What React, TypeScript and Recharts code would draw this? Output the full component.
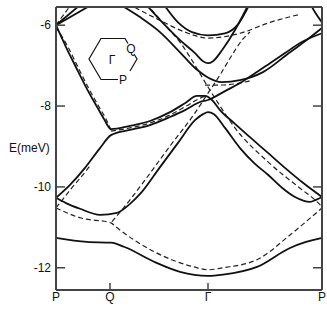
import { LineChart, Line, XAxis, YAxis } from 'recharts';

// k runs along the path P -> Q -> Gamma -> P
const kTicks = [0, 54, 152, 266];
const kLabels = ['P', 'Q', 'Γ', 'P'];
const kTopTicks = [54, 152];
const eTicks = [-12, -10, -8, -6];
const eDomain = [-12.55, -5.55];

// solid bands, [k, E(meV)]
const bandLowest = [[0, -11.26], [31, -11.36], [55, -11.38], [68, -11.48], [98, -11.85], [124, -12.1], [152, -12.2], [167, -12.17], [201, -11.98], [234, -11.51], [250, -11.36], [266, -11.26]];
const bandSecond = [[0, -10.27], [10, -10.4], [24, -10.54], [44, -10.69], [61, -10.64], [74, -10.42], [85, -10.15], [104, -9.51], [122, -8.91], [139, -8.35], [147, -8.2], [152, -8.15], [158, -8.2], [169, -8.54], [184, -9.04], [199, -9.43], [212, -9.7], [226, -10.02], [239, -10.25], [254, -10.37], [260, -10.32], [266, -10.25]];
const bandStraight = [[0, -10.27], [14, -9.95], [29, -9.53], [44, -9.04], [55, -8.72], [74, -8.59], [94, -8.47], [114, -8.27], [129, -8.1], [144, -7.9], [152, -7.85], [169, -7.63], [184, -7.43], [199, -7.19], [214, -6.94], [229, -6.69], [244, -6.44], [266, -6.2]];
const bandHump = [[0, -6.0], [10, -6.54], [20, -7.04], [30, -7.53], [41, -8.02], [48, -8.32], [55, -8.57], [74, -8.49], [94, -8.37], [114, -8.15], [129, -7.93], [141, -7.75], [149, -7.75], [156, -7.85], [164, -8.1], [179, -8.44], [194, -8.77], [212, -9.16], [229, -9.53], [246, -9.88], [266, -10.25]];
const bandUpper = [[62, -5.46], [84, -5.8], [104, -6.17], [124, -6.67], [139, -7.06], [151, -7.28], [166, -7.41], [184, -7.36], [207, -7.16], [234, -6.67], [249, -6.4], [266, -6.07]];
const bandV = [[89, -5.46], [109, -6.0], [124, -6.37], [139, -6.69], [147, -6.89], [152, -6.94], [157, -6.89], [166, -6.62], [179, -6.12], [187, -5.75], [192, -5.51]];
const bandU = [[107, -5.46], [122, -5.93], [136, -6.17], [152, -6.25], [169, -6.2], [182, -5.98], [194, -5.46]];
const fanA = [[0, -6.0], [26, -5.46]];
const fanB = [[0, -6.0], [38, -5.46]];
const arcRight = [[254, -5.46], [259, -5.68], [266, -5.93]];

// dashed bands
const dashLowest = [[0, -10.52], [25, -10.77], [55, -10.89], [60, -10.99], [98, -11.6], [138, -11.98], [152, -12.05], [167, -12.0], [201, -11.8], [234, -11.19], [250, -10.86], [266, -10.52]];
const dashSteep = [[0, -6.05], [12, -6.54], [22, -7.04], [32, -7.53], [43, -8.02], [50, -8.32], [55, -8.6]];
const dashRising = [[56, -10.86], [74, -10.32], [89, -9.83], [114, -8.99], [139, -8.17], [152, -7.68], [164, -7.23], [176, -6.74], [186, -6.37], [194, -6.17]];
const dashFalling = [[90, -5.46], [109, -6.0], [124, -6.42], [139, -6.99], [152, -7.53], [164, -8.0], [179, -8.54], [212, -9.38], [246, -10.07], [259, -10.32], [266, -10.49]];
const dashFlat = [[72, -5.46], [79, -5.56], [104, -5.88], [129, -6.17], [152, -6.32], [184, -6.2], [214, -5.93], [244, -5.73]];
const dashHump = [[55, -8.62], [74, -8.54], [94, -8.42], [114, -8.22], [129, -8.02], [142, -7.83], [151, -7.73]];
const dashCross = [[149, -7.48], [164, -7.48], [184, -7.43], [196, -7.36]];
const dashLeft = [[0, -10.52], [7, -10.3], [16, -10.02], [26, -9.73], [34, -9.48]];
const dashFan = [[0, -6.0], [16, -5.46]];

const solidBands = [bandLowest, bandSecond, bandStraight, bandHump, bandUpper, bandV, bandU, fanA, fanB, arcRight];
const dashedBands = [dashLowest, dashSteep, dashRising, dashFalling, dashFlat, dashHump, dashCross, dashLeft, dashFan];

const toPts = (band: number[][]) => band.map(([k, E]) => ({ k, E }));

const frame = { stroke: '#444', strokeWidth: 2 };

const LeftTick = ({ x, y, payload }: any) => (
  <g>
    <line x1={x} y1={y} x2={x + 9} y2={y} stroke="#444" strokeWidth={1.5} />
    <text x={x - 5} y={y} dy="0.35em" textAnchor="end" fontSize={12} fill="#111">{payload.value}</text>
  </g>
);

const RightTick = ({ x, y }: any) => (
  <line x1={x} y1={y} x2={x - 9} y2={y} stroke="#444" strokeWidth={1.5} />
);

const BottomTick = ({ x, y, payload }: any) => (
  <g>
    <line x1={x} y1={y} x2={x} y2={y - 7} stroke="#444" strokeWidth={1.5} />
    <text x={x} y={y + 11} textAnchor="middle" fontSize={12} fill="#111">
      {kLabels[kTicks.indexOf(payload.value)]}
    </text>
  </g>
);

const TopTick = ({ x, y }: any) => (
  <line x1={x} y1={y} x2={x} y2={y + 7} stroke="#444" strokeWidth={1.5} />
);

export default function App() {
  return (
    <div style={{ position: 'absolute', left: 0, top: 0, width: 327, height: 309, background: '#fff', fontFamily: '"Liberation Sans", Arial, sans-serif' }}>
      <LineChart width={327} height={309} margin={{ top: 0, right: 0, bottom: 0, left: 0 }}>
        <XAxis dataKey="k" type="number" domain={[0, 266]} ticks={kTicks} interval={0} height={19}
          axisLine={frame} tickLine={false} tickSize={0} tickMargin={0} tick={BottomTick} />
        <XAxis xAxisId="top" orientation="top" dataKey="k" type="number" domain={[0, 266]} ticks={kTopTicks} height={7}
          axisLine={frame} tickLine={false} tickSize={0} tickMargin={0} tick={TopTick} />
        <YAxis type="number" domain={eDomain} ticks={eTicks} width={56} allowDataOverflow
          axisLine={frame} tickLine={false} tickSize={0} tickMargin={0} tick={LeftTick}
          label={{ value: 'E(meV)', position: 'insideLeft', offset: 9, dy: -1, fontSize: 12, fill: '#111' }} />
        <YAxis yAxisId="right" orientation="right" type="number" domain={eDomain} ticks={eTicks} width={5} allowDataOverflow
          axisLine={frame} tickLine={false} tickSize={0} tickMargin={0} tick={RightTick} />
        {dashedBands.map((b, i) => (
          <Line key={'d' + i} data={toPts(b)} dataKey="E" type="monotone" stroke="#222" strokeWidth={1.2}
            strokeDasharray="5 3" dot={false} activeDot={false} isAnimationActive={false} />
        ))}
        {solidBands.map((b, i) => (
          <Line key={'s' + i} data={toPts(b)} dataKey="E" type="monotone" stroke="#111" strokeWidth={1.8}
            dot={false} activeDot={false} isAnimationActive={false} />
        ))}
      </LineChart>
      {/* Brillouin zone inset */}
      <svg width={327} height={309} style={{ position: 'absolute', left: 0, top: 0, pointerEvents: 'none' }}>
        <path d="M118 79.5 L101 79.5 L89 59 L101 38.5 L125 38.5 L128 43.5" fill="none" stroke="#111" strokeWidth={1.2} />
        <path d="M134 54 L137 59 L130 71" fill="none" stroke="#111" strokeWidth={1.2} />
        <text x={131} y={53} textAnchor="middle" fontSize={12} fill="#111">Q</text>
        <text x={123} y={84} textAnchor="middle" fontSize={12} fill="#111">P</text>
        <text x={112} y={64} textAnchor="middle" fontSize={12} fill="#111">Γ</text>
      </svg>
    </div>
  );
}
